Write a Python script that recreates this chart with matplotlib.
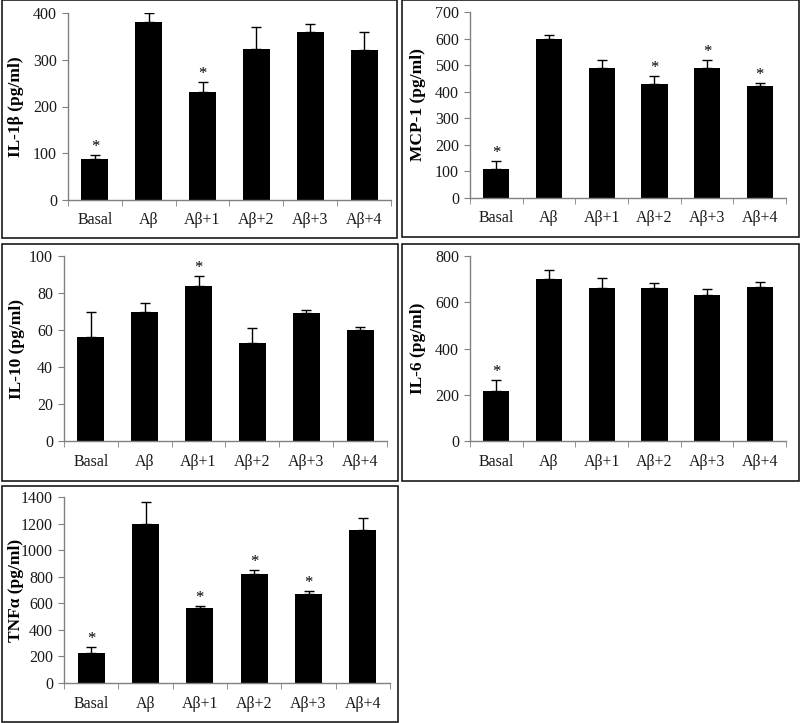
import numpy as np
import matplotlib.pyplot as plt
from matplotlib.patches import Rectangle
from matplotlib.transforms import blended_transform_factory

plt.rcParams['font.family'] = ['Liberation Serif', 'DejaVu Serif']

groups = ['Basal', 'Aβ', 'Aβ+1', 'Aβ+2', 'Aβ+3', 'Aβ+4']

# cytokine means, upper error bars and which bars carry a star
il1b = [87, 380, 230, 322, 360, 320]
il1b_err = [9, 20, 23, 47, 16, 39]
il1b_sig = [1, 0, 1, 0, 0, 0]

mcp1 = [110, 600, 488, 430, 488, 421]
mcp1_err = [28, 12, 33, 28, 33, 12]
mcp1_sig = [1, 0, 0, 1, 1, 1]

il10 = [56, 69.5, 84, 53, 69, 60]
il10_err = [13.5, 5, 5, 8, 1.7, 1.8]
il10_sig = [0, 0, 1, 0, 0, 0]

il6 = [218, 700, 662, 662, 633, 666]
il6_err = [47, 38, 43, 20, 23, 23]
il6_sig = [1, 0, 0, 0, 0, 0]

tnfa = [228, 1197, 562, 823, 672, 1150]
tnfa_err = [40, 168, 18, 25, 18, 90]
tnfa_sig = [1, 0, 1, 1, 1, 0]

W, H = 800, 723
fig = plt.figure(figsize=(W / 100, H / 100), dpi=100)


def px_axes(x0, x1, ytop, ybot):
    # axes from pixel box (origin top-left)
    return fig.add_axes([x0 / W, 1 - ybot / H, (x1 - x0) / W, (ybot - ytop) / H])


def frame(x0, y0, x1, y1):
    fig.add_artist(Rectangle((x0 / W, 1 - y1 / H), (x1 - x0) / W, (y1 - y0) / H,
                             transform=fig.transFigure, fill=False,
                             edgecolor='#1a1a1a', linewidth=1.2))


def panel(ax, vals, errs, sig, label, ymax, step, label_x):
    x = np.arange(len(groups))
    ax.bar(x, vals, width=0.5, color='black', zorder=2)
    ax.errorbar(x, vals, yerr=[np.zeros(len(vals)), errs], fmt='none',
                ecolor='black', elinewidth=1.0, capsize=3.5, capthick=1.0, zorder=3)
    for xi, v, e, s in zip(x, vals, errs, sig):
        if s:
            ax.annotate('*', (xi, v + e), xytext=(0, 0), textcoords='offset points',
                        ha='center', va='bottom', fontsize=12)
    ax.set_xlim(-0.5, len(groups) - 0.5)
    ax.set_ylim(0, ymax)
    ax.set_yticks(np.arange(0, ymax + 1, step))
    ax.set_xticks(x)
    ax.set_xticklabels(groups, fontsize=11.5, color='#1a1a1a')
    ax.set_xticks(np.arange(-0.5, len(groups), 1), minor=True)
    ax.tick_params(axis='x', which='major', length=0, pad=9)
    ax.tick_params(axis='x', which='minor', length=4, color='#808080', direction='out')
    ax.tick_params(axis='y', length=4, color='#808080', labelsize=11.5, labelcolor='#1a1a1a', pad=4)
    for side in ['top', 'right']:
        ax.spines[side].set_visible(False)
    for side in ['left', 'bottom']:
        ax.spines[side].set_color('#808080')
        ax.spines[side].set_linewidth(1.0)
    ax.set_ylabel(label, fontsize=12.5, fontweight='bold')
    ax.yaxis.set_label_coords(label_x, 0.5,
                              transform=blended_transform_factory(fig.transFigure, ax.transAxes))


# panel borders
frame(2, 0, 397, 238)
frame(402, 0, 799, 237)
frame(2, 244, 398, 481)
frame(402, 244, 799, 481)
frame(2, 486, 398, 722)

ax1 = px_axes(68, 391, 13, 200)
panel(ax1, il1b, il1b_err, il1b_sig, 'IL-1β (pg/ml)', 400, 100, 24 / W)

ax2 = px_axes(470, 786, 12, 198)
panel(ax2, mcp1, mcp1_err, mcp1_sig, 'MCP-1 (pg/ml)', 700, 100, 426 / W)

ax3 = px_axes(64, 387, 256, 441)
panel(ax3, il10, il10_err, il10_sig, 'IL-10 (pg/ml)', 100, 20, 25 / W)

ax4 = px_axes(470, 786, 256, 441)
panel(ax4, il6, il6_err, il6_sig, 'IL-6 (pg/ml)', 800, 200, 426 / W)

ax5 = px_axes(64, 390, 497, 683)
panel(ax5, tnfa, tnfa_err, tnfa_sig, 'TNFα (pg/ml)', 1400, 200, 24 / W)

fig.savefig('out.png', dpi=100)
